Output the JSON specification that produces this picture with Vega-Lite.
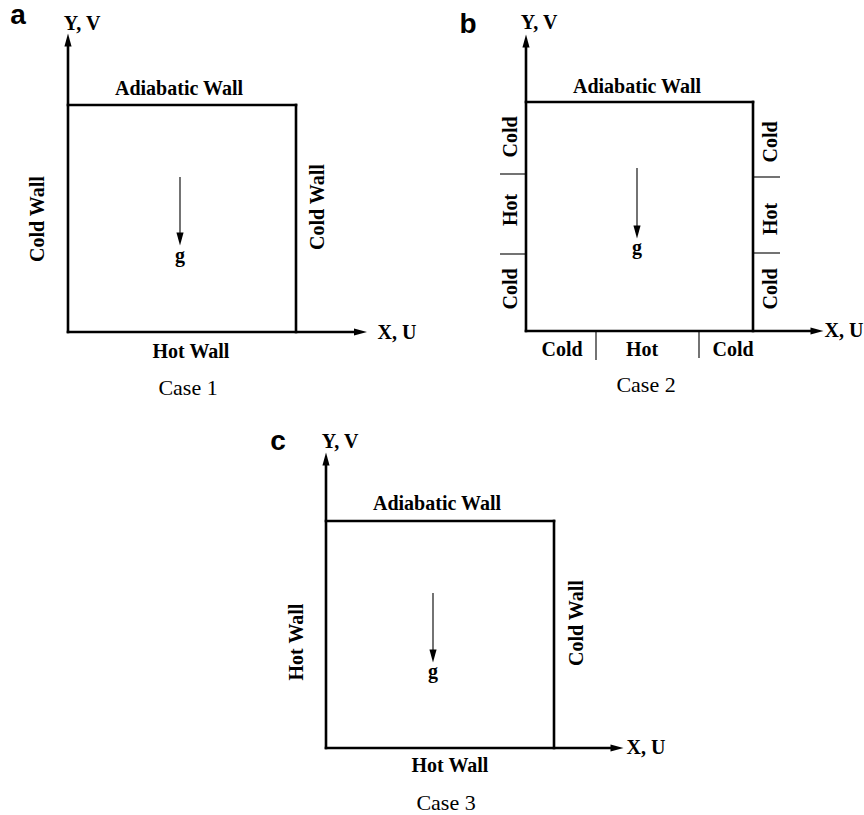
{
  "$schema": "https://vega.github.io/schema/vega-lite/v6.json",
  "width": 864,
  "height": 815,
  "autosize": {"type": "fit", "contains": "padding"},
  "padding": 0,
  "background": "white",
  "config": {"view": {"stroke": null}},
  "datasets": {
    "segments": [
      {"panel": "a", "x": 68, "y": 332, "x2": 68, "y2": 44, "kind": "wall"},
      {"panel": "a", "x": 68, "y": 105, "x2": 296, "y2": 105, "kind": "wall"},
      {"panel": "a", "x": 296, "y": 105, "x2": 296, "y2": 332, "kind": "wall"},
      {"panel": "a", "x": 68, "y": 332, "x2": 356, "y2": 332, "kind": "wall"},
      {"panel": "a", "x": 180, "y": 177, "x2": 180, "y2": 236, "kind": "thin"},
      {"panel": "b", "x": 526, "y": 331, "x2": 526, "y2": 45, "kind": "wall"},
      {"panel": "b", "x": 526, "y": 102, "x2": 753, "y2": 102, "kind": "wall"},
      {"panel": "b", "x": 753, "y": 102, "x2": 753, "y2": 331, "kind": "wall"},
      {"panel": "b", "x": 526, "y": 331, "x2": 812, "y2": 331, "kind": "wall"},
      {"panel": "b", "x": 500, "y": 174, "x2": 526, "y2": 174, "kind": "thin"},
      {"panel": "b", "x": 500, "y": 254, "x2": 526, "y2": 254, "kind": "thin"},
      {"panel": "b", "x": 753, "y": 177, "x2": 780, "y2": 177, "kind": "thin"},
      {"panel": "b", "x": 753, "y": 253, "x2": 780, "y2": 253, "kind": "thin"},
      {"panel": "b", "x": 596, "y": 331, "x2": 596, "y2": 360, "kind": "thin"},
      {"panel": "b", "x": 699, "y": 331, "x2": 699, "y2": 358, "kind": "thin"},
      {"panel": "b", "x": 637, "y": 168, "x2": 637, "y2": 229, "kind": "thin"},
      {"panel": "c", "x": 326, "y": 748, "x2": 326, "y2": 463, "kind": "wall"},
      {"panel": "c", "x": 326, "y": 521, "x2": 554, "y2": 521, "kind": "wall"},
      {"panel": "c", "x": 554, "y": 521, "x2": 554, "y2": 748, "kind": "wall"},
      {"panel": "c", "x": 326, "y": 748, "x2": 612, "y2": 748, "kind": "wall"},
      {"panel": "c", "x": 433, "y": 593, "x2": 433, "y2": 653, "kind": "thin"}
    ],
    "heads": [
      {"panel": "a", "x": 68, "y": 40, "dir": "up"},
      {"panel": "a", "x": 360.5, "y": 332, "dir": "right"},
      {"panel": "a", "x": 180, "y": 239, "dir": "down"},
      {"panel": "b", "x": 526, "y": 41, "dir": "up"},
      {"panel": "b", "x": 817, "y": 331, "dir": "right"},
      {"panel": "b", "x": 637, "y": 232, "dir": "down"},
      {"panel": "c", "x": 326, "y": 459, "dir": "up"},
      {"panel": "c", "x": 617, "y": 748, "dir": "right"},
      {"panel": "c", "x": 433, "y": 656, "dir": "down"}
    ],
    "labels": [
      {"text": "a", "x": 18, "y": 16, "style": "panel"},
      {"text": "Y, V", "x": 82, "y": 24, "style": "bold"},
      {"text": "Adiabatic Wall", "x": 179, "y": 89, "style": "bold"},
      {"text": "X, U", "x": 397, "y": 333, "style": "bold"},
      {"text": "Hot Wall", "x": 191, "y": 352, "style": "bold"},
      {"text": "Case 1", "x": 188, "y": 388, "style": "caption"},
      {"text": "g", "x": 180, "y": 256, "style": "bold"},
      {"text": "Cold Wall", "x": 38, "y": 219, "style": "vertical"},
      {"text": "Cold Wall", "x": 318, "y": 207, "style": "vertical"},
      {"text": "b", "x": 468, "y": 25, "style": "panel"},
      {"text": "Y, V", "x": 539, "y": 23, "style": "bold"},
      {"text": "Adiabatic Wall", "x": 637, "y": 87, "style": "bold"},
      {"text": "X, U", "x": 844, "y": 331, "style": "bold"},
      {"text": "Cold", "x": 511, "y": 137, "style": "vertical"},
      {"text": "Hot", "x": 511, "y": 210, "style": "vertical"},
      {"text": "Cold", "x": 511, "y": 289, "style": "vertical"},
      {"text": "Cold", "x": 771, "y": 142, "style": "vertical"},
      {"text": "Hot", "x": 771, "y": 219, "style": "vertical"},
      {"text": "Cold", "x": 771, "y": 289, "style": "vertical"},
      {"text": "Cold", "x": 562, "y": 350, "style": "bold"},
      {"text": "Hot", "x": 642, "y": 350, "style": "bold"},
      {"text": "Cold", "x": 733, "y": 350, "style": "bold"},
      {"text": "g", "x": 637, "y": 248, "style": "bold"},
      {"text": "Case 2", "x": 646, "y": 385, "style": "caption"},
      {"text": "c", "x": 278, "y": 442, "style": "panel"},
      {"text": "Y, V", "x": 340, "y": 442, "style": "bold"},
      {"text": "Adiabatic Wall", "x": 437, "y": 504, "style": "bold"},
      {"text": "X, U", "x": 646, "y": 748, "style": "bold"},
      {"text": "Hot Wall", "x": 450, "y": 766, "style": "bold"},
      {"text": "Case 3", "x": 446, "y": 803, "style": "caption"},
      {"text": "Hot Wall", "x": 297, "y": 642, "style": "vertical"},
      {"text": "Cold Wall", "x": 577, "y": 623, "style": "vertical"},
      {"text": "g", "x": 433, "y": 672, "style": "bold"}
    ]
  },
  "encoding": {
    "x": {"field": "x", "type": "quantitative", "scale": {"domain": [0, 864], "nice": false, "zero": false}, "axis": null},
    "y": {"field": "y", "type": "quantitative", "scale": {"domain": [0, 815], "nice": false, "zero": false, "reverse": true}, "axis": null}
  },
  "layer": [
    {
      "data": {"name": "segments"},
      "transform": [{"filter": "datum.kind === 'wall'"}],
      "mark": {"type": "rule", "color": "black", "strokeWidth": 2.6, "strokeCap": "square"},
      "encoding": {
        "x2": {"field": "x2"},
        "y2": {"field": "y2"}
      }
    },
    {
      "data": {"name": "segments"},
      "transform": [{"filter": "datum.kind === 'thin'"}],
      "mark": {"type": "rule", "color": "black", "strokeWidth": 1.1},
      "encoding": {
        "x2": {"field": "x2"},
        "y2": {"field": "y2"}
      }
    },
    {
      "data": {"name": "heads"},
      "mark": {"type": "point", "filled": true, "color": "black", "opacity": 1, "size": 169, "strokeWidth": 0},
      "encoding": {
        "shape": {
          "field": "dir",
          "type": "nominal",
          "legend": null,
          "scale": {
            "domain": ["up", "right", "down"],
            "range": ["M0,-1L0.55,1L-0.55,1Z", "M1,0L-1,0.55L-1,-0.55Z", "M0,1L0.55,-1L-0.55,-1Z"]
          }
        }
      }
    },
    {
      "data": {"name": "labels"},
      "transform": [{"filter": "datum.style === 'bold'"}],
      "mark": {"type": "text", "font": "Liberation Serif", "fontWeight": "bold", "fontSize": 20, "align": "center", "baseline": "middle", "color": "black"},
      "encoding": {"text": {"field": "text"}}
    },
    {
      "data": {"name": "labels"},
      "transform": [{"filter": "datum.style === 'vertical'"}],
      "mark": {"type": "text", "font": "Liberation Serif", "fontWeight": "bold", "fontSize": 20, "align": "center", "baseline": "middle", "angle": 270, "color": "black"},
      "encoding": {"text": {"field": "text"}}
    },
    {
      "data": {"name": "labels"},
      "transform": [{"filter": "datum.style === 'caption'"}],
      "mark": {"type": "text", "font": "Liberation Serif", "fontWeight": "normal", "fontSize": 22, "align": "center", "baseline": "middle", "color": "black"},
      "encoding": {"text": {"field": "text"}}
    },
    {
      "data": {"name": "labels"},
      "transform": [{"filter": "datum.style === 'panel'"}],
      "mark": {"type": "text", "font": "Liberation Sans", "fontWeight": "bold", "fontSize": 28, "align": "center", "baseline": "middle", "color": "black"},
      "encoding": {"text": {"field": "text"}}
    }
  ]
}
